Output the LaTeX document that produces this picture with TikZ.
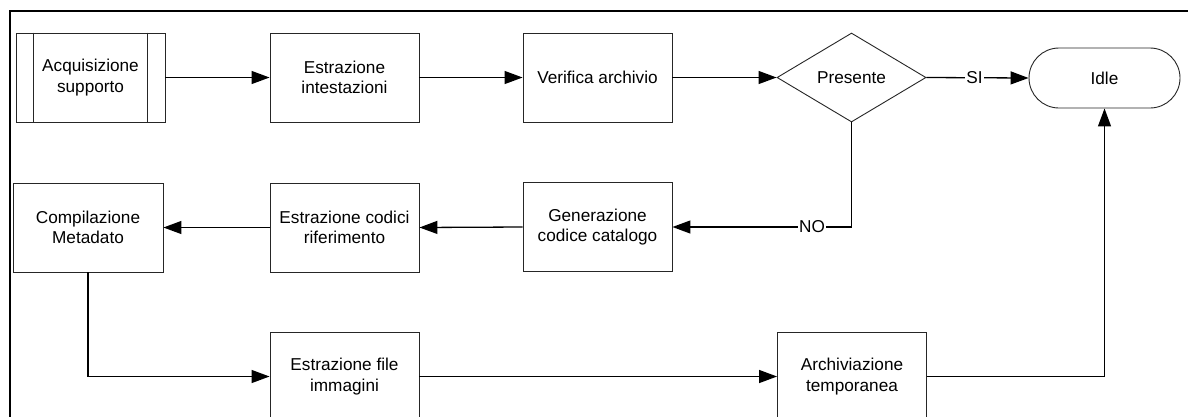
\documentclass[tikz,border=0pt]{standalone}
\usepackage{fontspec}
\setmainfont{Liberation Sans}
\usetikzlibrary{shapes.geometric,arrows.meta}
\begin{document}
\begin{tikzpicture}[x=1pt,y=-1pt,
  every node/.style={font=\fontsize{17.2}{20.5}\selectfont, align=center},
  box/.style={draw=black!85, line width=0.9pt, rectangle, minimum width=149pt, minimum height=89pt, inner sep=0pt},
  dia/.style={draw=black!85, line width=0.9pt, diamond, minimum width=149pt, minimum height=89pt, inner sep=0pt, aspect=1.67},
  term/.style={draw=black!85, line width=0.9pt, rectangle, rounded corners=30pt, minimum width=151pt, minimum height=60pt, inner sep=0pt},
  conn/.style={line width=1.3pt, -{Triangle[length=18pt,width=13pt]}},
  lbl/.style={fill=white, inner sep=1pt}
]
\useasboundingbox (0,0) rectangle (1188,416);
\fill[white] (0,0) rectangle (1188,416);
% frame
\coordinate (ftl) at (10,11);
\coordinate (ftr) at (1192,11);
\coordinate (fbl) at (10,420);
\draw[line width=2.4pt] (fbl) -- (ftl) -- (ftr);

% row 1
\node[box] (b1) at (90.5,77.5) {Acquisizione\\supporto};
\draw[line width=0.9pt, black!85] ([xshift=18pt]b1.north west) -- ([xshift=18pt]b1.south west);
\draw[line width=0.9pt, black!85] ([xshift=-18pt]b1.north east) -- ([xshift=-18pt]b1.south east);
\node[box] (b2) at (344.5,77.5) {Estrazione\\intestazioni};
\node[box] (b3) at (597.5,77.5) {Verifica archivio};
\node[dia] (d) at (851.5,77.5) {Presente};
\node[term] (idle) at (1104.5,78) {Idle};

% row 2
\node[box, minimum width=150pt] (comp) at (88,227.5) {Compilazione\\Metadato};
\node[box] (codici) at (344.5,227.5) {Estrazione codici\\riferimento};
\node[box] (gen) at (597.5,227) {Generazione\\codice catalogo};

% row 3
\node[box] (file) at (344.5,376.5) {Estrazione file\\immagini};
\node[box] (arch) at (852,376.5) {Archiviazione\\temporanea};

% connectors
\draw[conn] (b1.east) -- (b2.west);
\draw[conn] (b2.east) -- (b3.west);
\draw[conn] (b3.east) -- (d.west);
\draw[conn] (d.east) -- node[lbl, pos=0.47] {SI} (idle.west);
\draw[conn] (d.south) |- node[lbl, pos=0.61] {NO} (gen.east);
\draw[conn] (gen.west) -- (codici.east);
\draw[conn] (codici.west) -- (comp.east);
\draw[conn] (comp.south) |- (file.west);
\draw[conn] (file.east) -- (arch.west);
\draw[conn] (arch.east) -| (idle.south);
\end{tikzpicture}
\end{document}
